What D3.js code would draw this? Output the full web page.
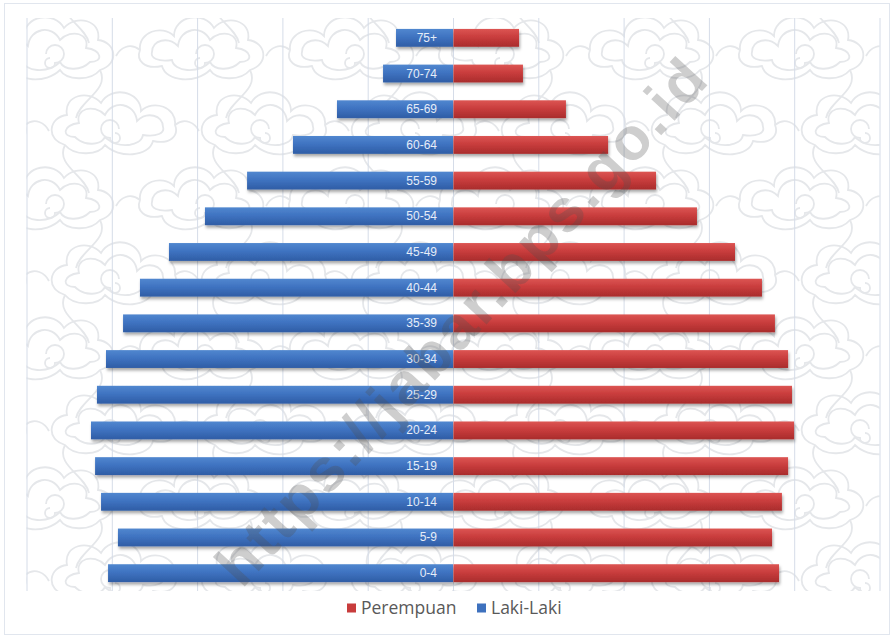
<!DOCTYPE html>
<html>
<head>
<script src="https://cdnjs.cloudflare.com/ajax/libs/d3/7.8.5/d3.min.js"></script>
<style>
  body { margin: 0; background: #ffffff; }
  .grid line { stroke: #d5dce8; stroke-width: 1; }
  .grid path { display: none; }
</style>
</head>
<body>
<div id="vis"></div>
<script>
// age groups from youngest to oldest (bottom to top)
const ageGroups = ["0-4", "5-9", "10-14", "15-19", "20-24", "25-29", "30-34", "35-39",
                   "40-44", "45-49", "50-54", "55-59", "60-64", "65-69", "70-74", "75+"];
const lakiLaki  = [2022000, 1964000, 2063000, 2098000, 2122000, 2087000, 2034000, 1934000,
                   1835000, 1665000, 1454000, 1207000, 938000, 680000, 410000, 334000];
const perempuan = [1911000, 1870000, 1928000, 1964000, 1999000, 1987000, 1964000, 1887000,
                   1811000, 1653000, 1430000, 1190000, 909000, 662000, 410000, 387000];
const gridTicks = d3.range(-2500000, 2500001, 500000);
const legendItems = [{name: "Perempuan", key: "p"}, {name: "Laki-Laki", key: "l"}];
const watermark = "https://jabar.bps.go.id";

const width = 894, height = 638;
const plot = {left: 26.5, right: 879.5, top: 20, bottom: 591};

const svg = d3.select("#vis").append("svg")
    .attr("width", width)
    .attr("height", height)
    .style("font-family", "'Liberation Sans', Arial, sans-serif");

const defs = svg.append("defs");

// mega mendung like background tile
const cloud = "M10,60 C8,42 32,34 44,46 C44,26 74,20 84,38 C96,24 122,30 118,50 " +
              "C136,52 140,74 120,80 C110,92 86,90 80,80 C66,94 36,92 32,76 C14,80 6,70 10,60 Z";
const cloudIn = "M22,62 C22,50 38,46 48,56 C50,38 72,34 80,50 C92,38 110,44 106,58 " +
                "C122,60 124,72 110,72 C100,82 84,80 80,72 C68,84 44,82 42,70 C28,72 20,68 22,62 Z";
const pat = defs.append("pattern").attr("id", "batik")
    .attr("patternUnits", "userSpaceOnUse")
    .attr("width", 150).attr("height", 150)
    .attr("x", -20).attr("y", -10);
const patG = pat.append("g").attr("fill", "none").attr("stroke", "#e5e7ea").attr("stroke-width", 1.8);
const placements = [[0, 0, 1], [75, 75, -1], [-75, 75, -1], [150, 0, 1], [0, 150, 1], [75, -75, -1], [-75, -75, -1]];
placements.forEach(p => {
  const g = patG.append("g").attr("transform", "translate(" + p[0] + "," + p[1] + ") scale(" + p[2] + ",1)" + (p[2] < 0 ? " translate(-130,0)" : ""));
  g.append("path").attr("d", cloud);
  g.append("path").attr("d", cloudIn);
  g.append("path").attr("d", "M66,64 a9,9 0 1,1 9,9 a5,5 0 1,1 -5,-5");
  g.append("path").attr("d", "M120,80 C130,100 100,110 96,128 M10,60 C0,52 -10,58 -14,66");
});

const shadow = defs.append("filter").attr("id", "shadow")
    .attr("x", "-5%").attr("y", "-30%").attr("width", "110%").attr("height", "180%");
shadow.append("feDropShadow").attr("dx", 1).attr("dy", 2.5).attr("stdDeviation", 1.6)
    .attr("flood-color", "#000").attr("flood-opacity", 0.35);

function grad(id, stops) {
  const g = defs.append("linearGradient").attr("id", id)
      .attr("x1", 0).attr("y1", 0).attr("x2", 0).attr("y2", 1);
  stops.forEach(s => g.append("stop").attr("offset", s[0]).attr("stop-color", s[1]));
}
grad("gBlue", [[0, "#5187cf"], [0.45, "#3f73c1"], [1, "#2f5da5"]]);
grad("gRed", [[0, "#dc5553"], [0.45, "#c93d3d"], [1, "#a92c2c"]]);

// outer frame
svg.append("rect").attr("x", 4.5).attr("y", 3.5).attr("width", width - 9).attr("height", height - 7)
    .attr("fill", "#ffffff").attr("stroke", "#e1e6ee");

svg.append("rect")
    .attr("x", plot.left).attr("y", plot.top - 2)
    .attr("width", plot.right - plot.left).attr("height", plot.bottom - plot.top + 2)
    .attr("fill", "url(#batik)");

const x = d3.scaleLinear().domain([-2500000, 2500000]).range([plot.left, plot.right]);
const y = d3.scaleBand().domain(ageGroups.slice().reverse())
    .range([plot.top, plot.bottom]).paddingInner(0.5).paddingOuter(0.25);

svg.append("g").attr("class", "grid")
    .attr("transform", "translate(0," + plot.bottom + ")")
    .call(d3.axisBottom(x).tickValues(gridTicks).tickFormat("").tickSize(-(plot.bottom - plot.top + 2)));

const rows = ageGroups.map((a, i) => ({age: a, l: lakiLaki[i], p: perempuan[i]}));

const bars = svg.append("g").attr("filter", "url(#shadow)");
bars.selectAll("rect.l").data(rows).join("rect").attr("class", "l")
    .attr("x", d => x(-d.l)).attr("y", d => y(d.age))
    .attr("width", d => x(0) - x(-d.l)).attr("height", y.bandwidth())
    .attr("fill", "url(#gBlue)");
bars.selectAll("rect.p").data(rows).join("rect").attr("class", "p")
    .attr("x", x(0) + 0.5).attr("y", d => y(d.age))
    .attr("width", d => x(d.p) - x(0) - 0.5).attr("height", y.bandwidth())
    .attr("fill", "url(#gRed)");

svg.append("g").selectAll("text").data(rows).join("text")
    .attr("x", x(0) - 16).attr("y", d => y(d.age) + y.bandwidth() / 2 + 4)
    .attr("text-anchor", "end")
    .attr("font-size", 12)
    .attr("fill", "#e6edf8")
    .text(d => d.age);

// watermark
svg.append("text")
    .attr("transform", "translate(461,322) rotate(-47.3)")
    .attr("text-anchor", "middle").attr("dominant-baseline", "central")
    .attr("font-size", 60).attr("font-weight", "bold")
    .attr("textLength", 690).attr("lengthAdjust", "spacing")
    .attr("fill", "#505050").attr("fill-opacity", 0.28)
    .text(watermark);

// legend
const color = {p: "#c83c3c", l: "#3e71be"};
const leg = svg.append("g").attr("transform", "translate(347,608)");
const legX = [0, 130];
leg.selectAll("rect").data(legendItems).join("rect")
    .attr("x", (d, i) => legX[i]).attr("y", -4.5).attr("width", 9).attr("height", 9)
    .attr("fill", d => color[d.key]);
leg.selectAll("text").data(legendItems).join("text")
    .attr("x", (d, i) => legX[i] + 14).attr("y", 6)
    .attr("font-family", "'Open Sans', sans-serif")
    .attr("font-size", 17.5).attr("fill", "#595959")
    .text(d => d.name);
</script>
</body>
</html>
